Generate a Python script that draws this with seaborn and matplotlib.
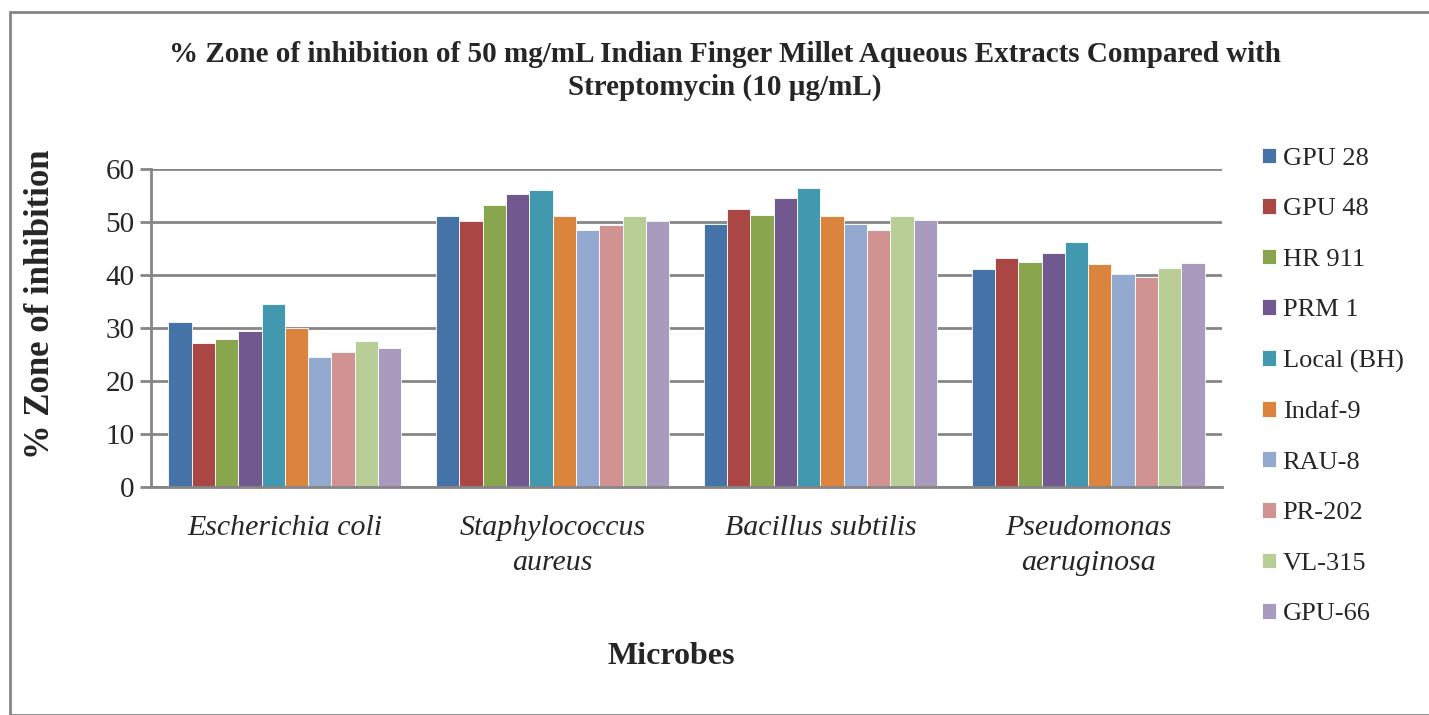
import matplotlib
matplotlib.use("Agg")
import matplotlib.pyplot as plt
import seaborn as sns
import pandas as pd
from matplotlib.patches import Rectangle

microbes = ["Escherichia coli", "Staphylococcus\naureus", "Bacillus subtilis", "Pseudomonas\naeruginosa"]
varieties = ["GPU 28", "GPU 48", "HR 911", "PRM 1", "Local (BH)", "Indaf-9", "RAU-8", "PR-202", "VL-315", "GPU-66"]
gpu28 = [31.2, 51.1, 49.6, 41.1]
gpu48 = [27.2, 50.2, 52.4, 43.2]
hr911 = [28.0, 53.3, 51.4, 42.4]
prm1 = [29.5, 55.2, 54.5, 44.2]
local_bh = [34.5, 56.1, 56.4, 46.2]
indaf9 = [30.0, 51.2, 51.2, 42.0]
rau8 = [24.5, 48.5, 49.6, 40.1]
pr202 = [25.4, 49.5, 48.5, 39.6]
vl315 = [27.6, 51.2, 51.2, 41.3]
gpu66 = [26.3, 50.2, 50.3, 42.2]
yticks = [0, 10, 20, 30, 40, 50, 60]
colors = ["#4572A7", "#AA4643", "#89A54E", "#71588F", "#4198AF",
          "#DB843D", "#93A9CF", "#D19392", "#B9CD96", "#A99BBD"]

series = [gpu28, gpu48, hr911, prm1, local_bh, indaf9, rau8, pr202, vl315, gpu66]
rows = []
for v, vals in zip(varieties, series):
    for m, val in zip(microbes, vals):
        rows.append({"Microbe": m, "Variety": v, "Value": val})
df = pd.DataFrame(rows)

sns.set_style("white")
plt.rcParams["font.family"] = ["Liberation Serif", "DejaVu Serif"]

fig = plt.figure(figsize=(14.29, 7.15), dpi=100)
ax = fig.add_axes([151/1429, 1 - 487/715, (1222-151)/1429, (487-169)/715])

sns.barplot(data=df, x="Microbe", y="Value", hue="Variety", order=microbes,
            hue_order=varieties, palette=colors, width=0.87, gap=0,
            saturation=1, ax=ax, legend=True, edgecolor="white", linewidth=0.6)

ax.set_ylim(0, 60)
ax.set_yticks(yticks)
ax.set_yticklabels([str(t) for t in yticks], fontsize=21)
ax.yaxis.grid(True, color="#868686", linewidth=2)
ax.set_axisbelow(True)
for s in ["top", "right"]:
    ax.spines[s].set_visible(False)
for s in ["left", "bottom"]:
    ax.spines[s].set_color("#868686")
    ax.spines[s].set_linewidth(2)
ax.tick_params(axis="y", left=True, length=8, width=2, color="#868686", pad=4)
ax.tick_params(axis="x", bottom=False, pad=17)
for lbl in ax.get_xticklabels():
    lbl.set_fontstyle("italic")
    lbl.set_fontsize(21.5)
    lbl.set_linespacing(1.45)
ax.set_xlabel("")
ax.set_ylabel("")

handles, labels = ax.get_legend_handles_labels()
ax.legend_.remove()
fig.legend(handles, labels, loc="upper left", bbox_to_anchor=(1251/1429, 1 - 137/715),
           frameon=False, fontsize=19, handlelength=0.55, handleheight=0.55,
           handletextpad=0.25, labelspacing=1.07, borderaxespad=0)

fig.text(725/1429, 1 - 71/715,
         "% Zone of inhibition of 50 mg/mL Indian Finger Millet Aqueous Extracts Compared with\nStreptomycin (10 µg/mL)",
         ha="center", va="center", fontsize=21, fontweight="bold", linespacing=1.25)
fig.text(41/1429, 1 - 304/715, "% Zone of inhibition", rotation=90,
         ha="center", va="center", fontsize=25, fontweight="bold")
fig.text(671/1429, 1 - 657/715, "Microbes", ha="center", va="center",
         fontsize=23, fontweight="bold")

fig.patches.append(Rectangle((10/1429, 0), 1.5, 1 - 12/715, transform=fig.transFigure,
                             fill=False, edgecolor="#868686", linewidth=2))

fig.savefig("out.png", dpi=100)
